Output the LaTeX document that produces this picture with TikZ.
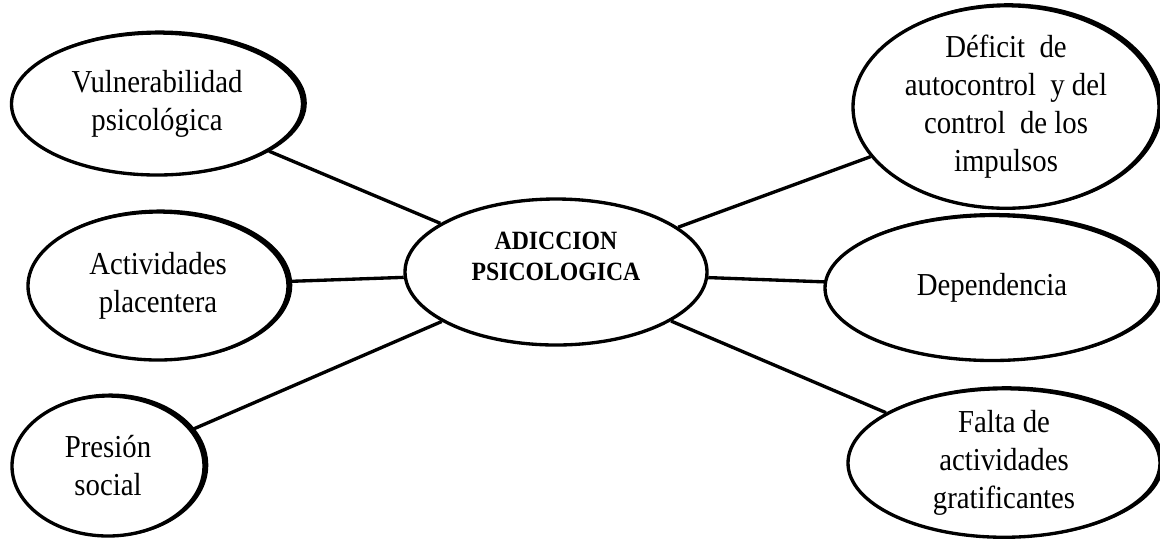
\documentclass[tikz,border=0pt]{standalone}
\usepackage{fontspec}
\setmainfont{Liberation Serif}[FakeStretch=0.9]
\usetikzlibrary{shapes.geometric,shadows}

\begin{document}
\begin{tikzpicture}[
		rama/.style={ellipse, draw, line width=1.9pt, fill=white, align=center, inner sep=0pt,
			font=\fontsize{18.2}{21.6}\selectfont,
			copy shadow={shadow xshift=1.5pt, shadow yshift=0.5pt}},
		centro/.style={ellipse, draw, line width=1.9pt, fill=white, align=center, inner sep=0pt,
			font=\fontsize{15}{17.6}\selectfont\bfseries},
		enlace/.style={line width=1.9pt}]
			%%%%% START %%%%%
			\useasboundingbox (0, 0) rectangle (23.2, -10.84);
			
			\node[centro, minimum width=6.04cm, minimum height=2.92cm] (adic) at (11.12, -5.44) {ADICCION\\PSICOLOGICA\\[0pt]};
			
			\node[rama, minimum width=5.82cm, minimum height=2.84cm] (vuln) at (3.14, -2.08) {Vulnerabilidad\\psicológica};
			\node[rama, minimum width=5.2cm, minimum height=2.96cm] (activ) at (3.16, -5.72) {Actividades\\placentera};
			\node[rama, minimum width=3.84cm, minimum height=2.8cm] (presion) at (2.16, -9.32) {Presión\\social};
			
			\node[rama, minimum width=6.12cm, minimum height=3.74cm] (deficit) at (20.12, -2.14) {Déficit~ de\\autocontrol~ y del\\control~ de los\\impulsos};
			\node[rama, minimum width=6.68cm, minimum height=2.9cm] (depend) at (19.84, -5.76) {Dependencia};
			\node[rama, minimum width=6.24cm, minimum height=2.8cm] (falta) at (20.08, -9.26) {Falta de\\actividades\\gratificantes};
			
			\draw[enlace] (vuln) -- (adic);
			\draw[enlace] (activ) -- (adic);
			\draw[enlace] (presion) -- (adic);
			\draw[enlace] (deficit) -- (adic);
			\draw[enlace] (depend) -- (adic);
			\draw[enlace] (falta) -- (adic);
			%%%%% END %%%%%
\end{tikzpicture}
\end{document}
